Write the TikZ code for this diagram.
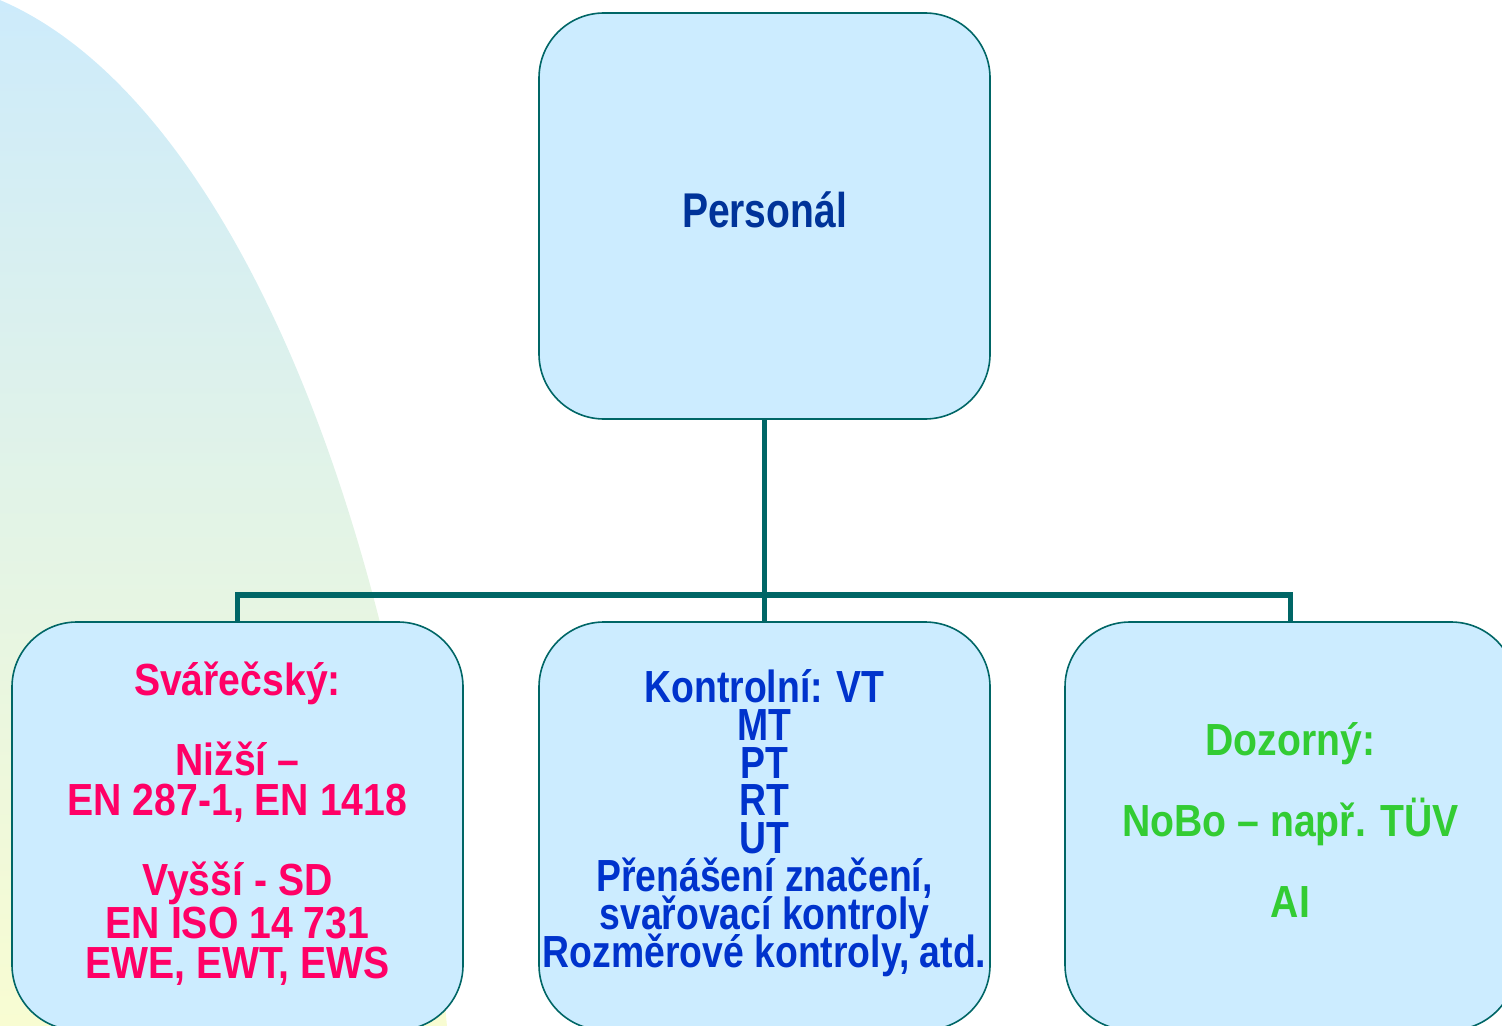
\documentclass[tikz,border=0pt]{standalone}
\usepackage{fontspec}
\newfontfamily\nar{Liberation Sans}[FakeStretch=0.87]
\newfontfamily\narm{Liberation Sans}[FakeStretch=0.83]
\newfontfamily\nart{Liberation Sans}[FakeStretch=0.80]
\definecolor{boxfill}{RGB}{204,236,255}
\definecolor{teal}{RGB}{0,102,102}
\definecolor{navy}{RGB}{0,51,153}
\definecolor{kblue}{RGB}{0,51,204}
\definecolor{pink}{RGB}{255,0,102}
\definecolor{lgreen}{RGB}{51,204,51}
\definecolor{bgtop}{RGB}{205,235,251}
\definecolor{bgbot}{RGB}{248,252,210}
\begin{document}
\begin{tikzpicture}[x=0.5pt,y=-0.5pt,
  box/.style={draw=teal, line width=0.8pt, fill=boxfill, rounded corners=32.5pt,
    minimum width=225.5pt, inner sep=0pt, align=center, font=\nar\bfseries},
  conn/.style={draw=teal, line width=2.6pt, line join=miter}]
\useasboundingbox (0,0) rectangle (1502,1026);
% background
\begin{scope}
  \clip (-100,1300) ellipse [x radius=559, y radius=1321];
  \shade[top color=bgtop, bottom color=bgbot] (0,0) rectangle (1502,1026);
\end{scope}
% nodes
\node[box, minimum height=203pt, text=navy, text depth=6pt,
  font=\nart\bfseries\fontsize{24.4}{28}\selectfont] (top) at (764.5,216) {Personál};
\node[box, minimum height=204pt, text=pink, text depth=5.5pt,
  font=\nar\bfseries\fontsize{22.5}{20}\selectfont] (left) at (237.5,826)
  {Svářečský:\\ \\Nižší –\\EN 287-1, EN 1418\\ \\Vyšší - SD\\EN ISO 14 731\\EWE, EWT, EWS};
\node[box, minimum height=204pt, text=kblue, text depth=7.7pt,
  font={\narm\bfseries\fontsize{22.5}{18.9}\selectfont\lineskiplimit=-30pt}] (mid) at (764.5,826)
  {Kontrolní: VT\\MT\\PT\\RT\\UT\\Přenášení značení,\\svařovací kontroly\\Rozměrové kontroly, atd.};
\node[box, minimum height=204pt, text=lgreen, text depth=6pt,
  font=\nar\bfseries\fontsize{22.5}{40.5}\selectfont] (right) at (1290.5,826)
  {Dozorný:\\NoBo – např. TÜV\\AI};
% connectors
\coordinate (bar) at (0,595);
\draw[conn] (top.south) -- (mid.north);
\draw[conn] (left.north) -- (left.north |- bar) -- (right.north |- bar) -- (right.north);
\end{tikzpicture}
\end{document}
